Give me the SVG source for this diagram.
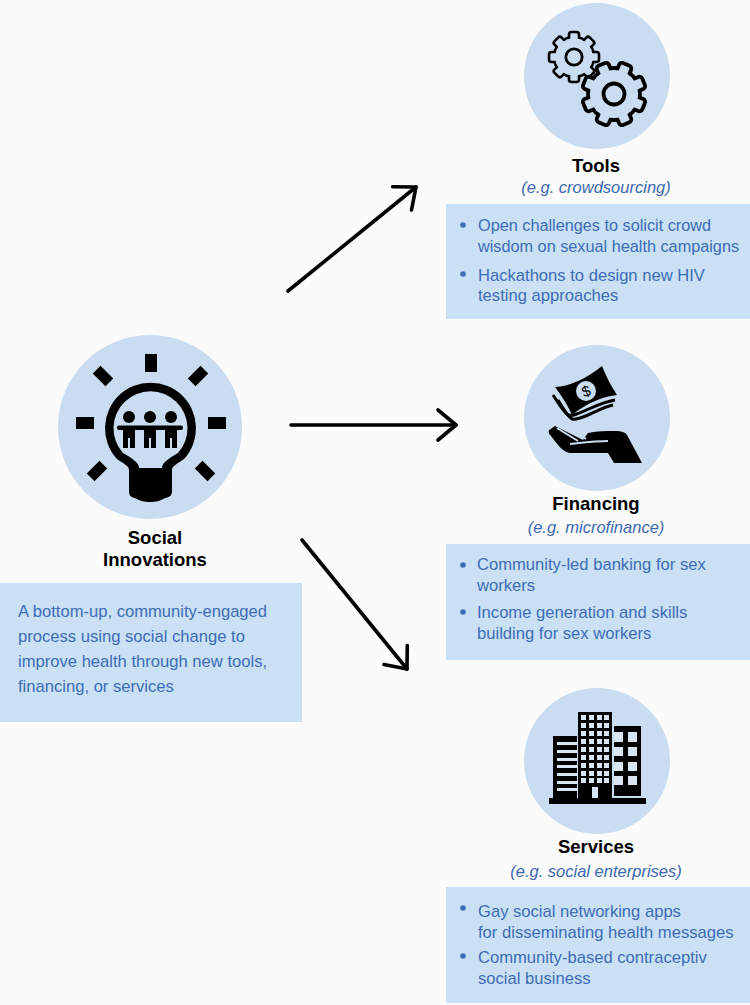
<svg xmlns="http://www.w3.org/2000/svg" xmlns:xlink="http://www.w3.org/1999/xlink" width="750" height="1005" viewBox="0 0 750 1005">
<style>
text{font-family:"Liberation Sans",Arial,sans-serif}
.disc{fill:#c9dcf0}
.box{fill:#c9e0f5}
.h{font-size:18.5px;font-weight:bold;fill:#000;text-anchor:middle}
.eg{font-size:16.5px;font-style:italic;fill:#3c68b0;text-anchor:middle}
.b{font-size:16.6px;fill:#3f6cb5}
.s{font-size:16.25px}
.dot{fill:#3f6cb5}
.k{fill:#000}
.arr{fill:none;stroke:#000;stroke-width:3.6;stroke-linecap:round;marker-end:url(#open)}
.gt{fill:#c9dcf0;stroke:#000;stroke-linejoin:round}
.gap{fill:none;stroke:#c9dcf0;stroke-width:2}
.cur{fill:none;stroke:#000;stroke-width:3}
.win{fill:#d9e5f2}
</style>
<defs>
<marker id="open" markerUnits="userSpaceOnUse" markerWidth="30" markerHeight="40" refX="25" refY="20" orient="auto" viewBox="0 0 30 40">
<path d="M7 5 L25 20 L7 35" fill="none" stroke="#000" stroke-width="3.6" stroke-linecap="round" stroke-linejoin="round"/>
</marker>
<rect id="t1" x="-5" y="-25" width="10" height="10" rx="2.5" class="gt" stroke-width="2.6"/>
<rect id="t2" x="-6.5" y="-32" width="13" height="12" rx="3" class="gt" stroke-width="3.8"/>
</defs>
<rect width="750" height="1005" fill="#fbfbfb"/>
<g id="connectors">
<path class="arr" d="M288 291L416 187"/>
<path class="arr" d="M291 425H456"/>
<path class="arr" d="M302 540L407 669"/>
</g>
<g id="social">
<circle class="disc" cx="150" cy="427" r="92"/>
<rect class="k" x="145" y="354" width="12" height="18"/>
<rect class="k" x="76" y="417" width="18" height="12"/>
<rect class="k" x="208" y="417" width="18" height="12"/>
<rect class="k" x="-9" y="-5.500" width="18" height="11" transform="translate(103 376) rotate(45)"/>
<rect class="k" x="-9" y="-5.500" width="18" height="11" transform="translate(198 376) rotate(-45)"/>
<rect class="k" x="-9" y="-5.500" width="18" height="11" transform="translate(97 471) rotate(-45)"/>
<rect class="k" x="-9" y="-5.500" width="18" height="11" transform="translate(205 471) rotate(45)"/>
<path class="k" fill-rule="evenodd" d="M129 470C129 466 124 464 117 459A45.500 45.500 0 1 1 184 459C177 464 172 466 172 470V491C172 497 168 497 163 499C158 503 142 503 137 499C132 497 129 497 129 491ZM139 468H162C162 462 170 458 178 453A37 37 0 1 0 123 453C131 458 139 462 139 468Z"/>
<circle class="k" cx="129" cy="417" r="6"/><circle class="k" cx="150" cy="417" r="6"/><circle class="k" cx="171" cy="417" r="6"/>
<rect class="k" x="117" y="425.500" width="66" height="4.500" rx="2"/>
<path class="k" d="M123 428H135V448H130V438H128V448H123ZM144 428H156V448H151V438H149V448H144ZM165 428H177V448H172V438H170V448H165Z"/>
<text class="h" x="155" y="544">Social</text>
<text class="h" x="155" y="566">Innovations</text>
<rect class="box" x="0" y="583" width="302" height="139"/>
<text class="b" x="18" y="617">A bottom-up, community-engaged</text>
<text class="b" x="18" y="642">process using social change to</text>
<text class="b" x="18" y="667">improve health through new tools,</text>
<text class="b" x="18" y="692">financing, or services</text>
</g>
<g id="tools">
<circle class="disc" cx="597" cy="76" r="73"/>
<g transform="translate(574 57)">
<circle r="20" fill="#c9dcf0" stroke="#000" stroke-width="2.600"/>
<use xlink:href="#t1"/><use xlink:href="#t1" transform="rotate(45)"/><use xlink:href="#t1" transform="rotate(90)"/><use xlink:href="#t1" transform="rotate(135)"/><use xlink:href="#t1" transform="rotate(180)"/><use xlink:href="#t1" transform="rotate(225)"/><use xlink:href="#t1" transform="rotate(270)"/><use xlink:href="#t1" transform="rotate(315)"/>
<circle r="18.700" fill="#c9dcf0"/>
<circle r="8.200" fill="none" stroke="#000" stroke-width="2.800"/>
</g>
<g transform="translate(614 94)">
<circle r="26" fill="#c9dcf0" stroke="#000" stroke-width="3.800"/>
<use xlink:href="#t2" transform="rotate(22.500)"/><use xlink:href="#t2" transform="rotate(67.500)"/><use xlink:href="#t2" transform="rotate(112.500)"/><use xlink:href="#t2" transform="rotate(157.500)"/><use xlink:href="#t2" transform="rotate(202.500)"/><use xlink:href="#t2" transform="rotate(247.500)"/><use xlink:href="#t2" transform="rotate(292.500)"/><use xlink:href="#t2" transform="rotate(337.500)"/>
<circle r="24.100" fill="#c9dcf0"/>
<circle r="10.500" fill="none" stroke="#000" stroke-width="3.800"/>
</g>
<text class="h" x="596" y="172">Tools</text>
<text class="eg" x="596" y="193">(e.g. crowdsourcing)</text>
<rect class="box" x="446" y="204" width="304" height="115"/>
<circle class="dot" cx="463" cy="225" r="2.800"/>
<text class="b s" x="478" y="231">Open challenges to solicit crowd</text>
<text class="b s" x="478" y="252">wisdom on sexual health campaigns</text>
<circle class="dot" cx="463" cy="274" r="2.800"/>
<text class="b" x="478" y="281">Hackathons to design new HIV</text>
<text class="b" x="478" y="301">testing approaches</text>
</g>
<g id="financing">
<circle class="disc" cx="597" cy="418" r="73"/>
<path class="k" d="M555 387C568 387 588 378 602 366C606 376 611 386 617 395C604 396 585 404 572 415C568 406 562 396 555 387Z"/>
<circle cx="586" cy="391" r="10" fill="#c9dcf0"/>
<text x="586" y="396.500" font-size="15" text-anchor="middle" fill="#000" transform="rotate(-20 586 391)">$</text>
<path class="cur" d="M553 395C558 402 562 410 568 415C576 418 595 403 615 400"/>
<path class="cur" d="M558 400C563 408 567 416 572 419C582 421 598 408 613 405"/>
<path class="k" d="M549.300 430L555 426L583 440L588 433C598 431 606 431 615 431C621 431 625 432 627 435L642 463L614 463L608 453H570C562 452 556 442 549.300 434C548.500 432 548.500 431 549.300 430Z"/>
<path class="gap" d="M557 428L578 441M567 426L586 439"/>
<path class="gap" d="M570 444C580 443 595 441 608 441"/>
<text class="h" x="596" y="510">Financing</text>
<text class="eg" x="596" y="533">(e.g. microfinance)</text>
<rect class="box" x="446" y="544" width="304" height="116"/>
<circle class="dot" cx="463" cy="565" r="2.800"/>
<text class="b" x="477" y="570">Community-led banking for sex</text>
<text class="b" x="477" y="591">workers</text>
<circle class="dot" cx="463" cy="612" r="2.800"/>
<text class="b" x="477" y="618">Income generation and skills</text>
<text class="b" x="477" y="639">building for sex workers</text>
</g>
<g id="services">
<circle class="disc" cx="597" cy="761" r="73"/>
<rect class="k" x="549" y="798" width="97" height="6"/>
<rect class="k" x="553" y="736" width="24" height="62"/>
<path class="win" d="M557 742h20v3h-20zM557 750h20v3h-20zM557 758h20v3h-20zM557 765h20v3h-20zM557 773h20v3h-20zM557 781h20v3h-20zM557 788h20v3h-20z"/>
<rect class="k" x="578" y="712" width="34" height="88"/>
<path class="win" d="M581 715h5v5h-5zM589 715h5v5h-5zM597 715h5v5h-5zM604 715h5v5h-5zM581 723h5v5h-5zM589 723h5v5h-5zM597 723h5v5h-5zM604 723h5v5h-5zM581 731h5v5h-5zM589 731h5v5h-5zM597 731h5v5h-5zM604 731h5v5h-5zM581 739h5v5h-5zM589 739h5v5h-5zM597 739h5v5h-5zM604 739h5v5h-5zM581 747h5v5h-5zM589 747h5v5h-5zM597 747h5v5h-5zM604 747h5v5h-5zM581 755h5v5h-5zM589 755h5v5h-5zM597 755h5v5h-5zM604 755h5v5h-5zM581 763h5v5h-5zM589 763h5v5h-5zM597 763h5v5h-5zM604 763h5v5h-5zM581 771h5v5h-5zM589 771h5v5h-5zM597 771h5v5h-5zM604 771h5v5h-5zM581 778h5v5h-5zM589 778h5v5h-5zM597 778h5v5h-5zM604 778h5v5h-5zM592 787h6v11h-6z"/>
<rect class="k" x="614" y="726" width="27" height="70"/>
<path class="win" d="M628 732h9v10h-9zM628 747h9v9h-9zM628 762h9v9h-9zM628 776h9v9h-9zM614 732h9v10h-9zM614 747h9v9h-9zM614 762h9v9h-9zM614 776h9v9h-9z"/>
<text class="h" x="596" y="853">Services</text>
<text class="eg" x="596" y="877">(e.g. social enterprises)</text>
<rect class="box" x="446" y="887" width="304" height="116"/>
<circle class="dot" cx="463" cy="908" r="2.800"/>
<text class="b" x="478" y="917">Gay social networking apps</text>
<text class="b" x="478" y="938">for disseminating health messages</text>
<circle class="dot" cx="463" cy="956" r="2.800"/>
<text class="b" x="478" y="963">Community-based contraceptiv</text>
<text class="b" x="478" y="984">social business</text>
</g>
</svg>
